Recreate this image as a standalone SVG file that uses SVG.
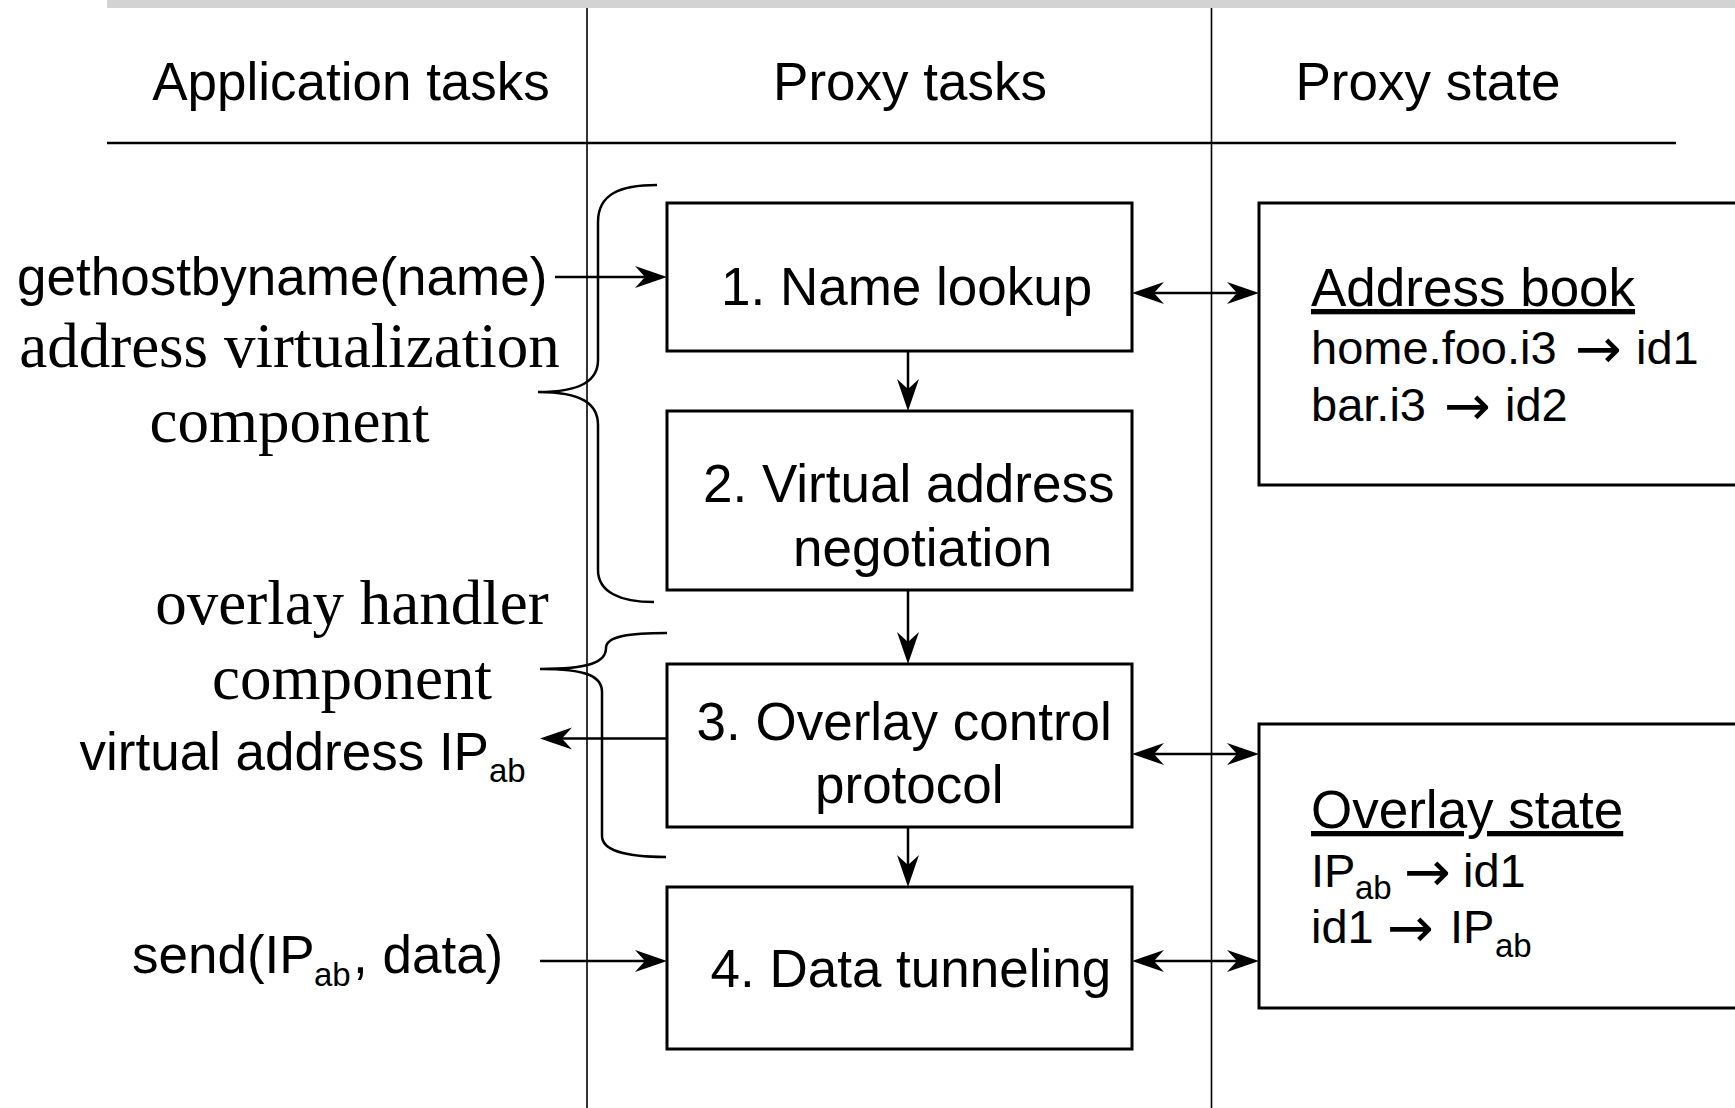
<svg xmlns="http://www.w3.org/2000/svg" width="1735" height="1108" viewBox="0 0 1735 1108">
<style>
.sans{font-family:"Liberation Sans",Arial,sans-serif;fill:#000}
.serif{font-family:"Liberation Serif","Times New Roman",serif;fill:#000}
.arr{font-family:"DejaVu Sans",sans-serif;font-size:56px}
.f53{font-size:53px}
.f47{font-size:47px}
.f63{font-size:63px}
.sub{font-size:33px}
.box{fill:#fff;stroke:#000;stroke-width:3}
.col{stroke:#000;stroke-width:1.6;fill:none}
.conn{stroke:#000;stroke-width:2.5;fill:none}
.brace{stroke:#000;stroke-width:2.5;fill:none}
</style>
<defs>
<marker id="ah" viewBox="-26 -12 36 24" markerWidth="36" markerHeight="24" refX="0" refY="0" orient="auto-start-reverse" markerUnits="userSpaceOnUse">
<path d="M8,0 L-24,-11 L-14,0 L-24,11 Z" fill="#000"/>
</marker>
</defs>
<rect x="0" y="0" width="1735" height="1108" fill="#fff"/>
<g id="frame">
<rect x="107" y="0" width="1628" height="8" fill="#d3d3d3"/>
<line x1="107" y1="143" x2="1676" y2="143" stroke="#000" stroke-width="2.6"/>
<line class="col" x1="587" y1="8" x2="587" y2="1108"/>
<line class="col" x1="1211.5" y1="8" x2="1211.5" y2="1108"/>
</g>
<g id="headers">
<text class="sans f53" x="351" y="100" text-anchor="middle">Application tasks</text>
<text class="sans f53" x="910" y="100" text-anchor="middle">Proxy tasks</text>
<text class="sans f53" x="1428" y="100" text-anchor="middle">Proxy state</text>
</g>
<g id="app-labels">
<text class="sans f53" x="17" y="295">gethostbyname(name)</text>
<text class="serif f63" x="289.5" y="367" text-anchor="middle">address virtualization</text>
<text class="serif f63" x="289.5" y="442" text-anchor="middle">component</text>
<text class="serif f63" x="352" y="624" text-anchor="middle">overlay handler</text>
<text class="serif f63" x="352" y="699" text-anchor="middle">component</text>
<text class="sans f53" x="79.5" y="770">virtual address IP<tspan class="sub" x="489" y="782">ab</tspan></text>
<text class="sans f53" x="132" y="973">send(IP<tspan class="sub" x="314" y="986">ab</tspan><tspan x="353" y="973">, data)</tspan></text>
</g>
<g id="braces">
<path class="brace" d="M657,185 C620,185 598,194 598,222 L598,360 C598,380 582,392 538,392 C582,392 598,404 598,425 L598,570 C598,592 620,602 654,602"/>
<path class="brace" d="M667,633 C630,633 606,636 606,648 C606,662 590,669 540,669 C586,669 602,676 602,692 L602,836 C602,850 625,857 666,857"/>
</g>
<g id="node1">
<rect class="box" x="667" y="203" width="465" height="148"/>
<text class="sans f53" x="721" y="305">1. Name lookup</text>
</g>
<g id="node2">
<rect class="box" x="667" y="411" width="465" height="179"/>
<text class="sans f53" x="703" y="502">2. Virtual address</text>
<text class="sans f53" x="793" y="566">negotiation</text>
</g>
<g id="node3">
<rect class="box" x="667" y="664" width="465" height="163"/>
<text class="sans f53" x="696.5" y="740">3. Overlay control</text>
<text class="sans f53" x="815" y="803">protocol</text>
</g>
<g id="node4">
<rect class="box" x="667" y="887" width="465" height="162"/>
<text class="sans f53" x="710.5" y="987">4. Data tunneling</text>
</g>
<g id="address-book">
<rect class="box" x="1259" y="203" width="600" height="282"/>
<text class="sans f53" x="1311" y="306" text-decoration="underline">Address book</text>
<text class="sans f47" x="1311" y="364">home.foo.i3<tspan class="arr" x="1575" y="368">→</tspan><tspan x="1636" y="364">id1</tspan></text>
<text class="sans f47" x="1311" y="421">bar.i3<tspan class="arr" x="1444" y="425">→</tspan><tspan x="1505" y="421">id2</tspan></text>
</g>
<g id="overlay-state">
<rect class="box" x="1259" y="724" width="600" height="284"/>
<text class="sans f53" x="1311" y="828" text-decoration="underline">Overlay state</text>
<text class="sans f47" x="1311" y="887">IP<tspan class="sub" x="1355" y="899" font-size="32">ab</tspan><tspan class="arr" x="1404" y="891">→</tspan><tspan x="1463" y="887">id1</tspan></text>
<text class="sans f47" x="1311" y="943">id1<tspan class="arr" x="1387" y="947">→</tspan><tspan x="1450" y="943">IP</tspan><tspan class="sub" x="1495" y="957">ab</tspan></text>
</g>
<g id="connectors">
<line class="conn" x1="555" y1="277" x2="659" y2="277" marker-end="url(#ah)"/>
<line class="conn" x1="908" y1="351" x2="908" y2="403" marker-end="url(#ah)"/>
<line class="conn" x1="908" y1="590" x2="908" y2="656" marker-end="url(#ah)"/>
<line class="conn" x1="908" y1="827" x2="908" y2="879" marker-end="url(#ah)"/>
<line class="conn" x1="667" y1="738.5" x2="548" y2="738.5" marker-end="url(#ah)"/>
<line class="conn" x1="540" y1="961" x2="659" y2="961" marker-end="url(#ah)"/>
<line class="conn" x1="1140" y1="293" x2="1251" y2="293" marker-start="url(#ah)" marker-end="url(#ah)"/>
<line class="conn" x1="1140" y1="754" x2="1251" y2="754" marker-start="url(#ah)" marker-end="url(#ah)"/>
<line class="conn" x1="1140" y1="961" x2="1251" y2="961" marker-start="url(#ah)" marker-end="url(#ah)"/>
</g>
</svg>
